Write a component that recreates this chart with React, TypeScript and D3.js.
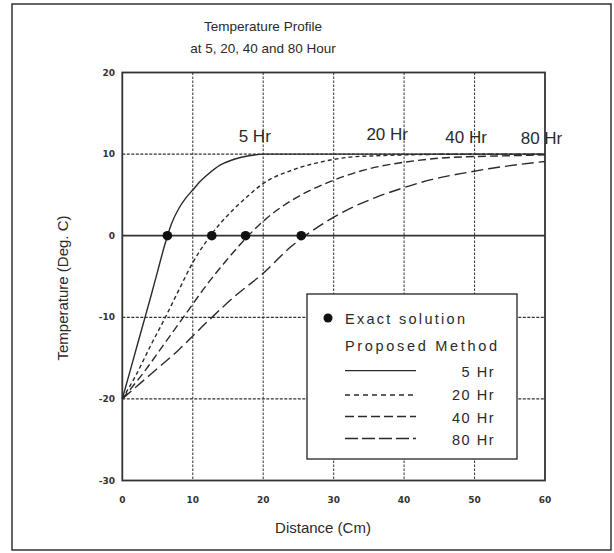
import React from "react";
import * as d3 from "d3";

const xTicks = [0, 10, 20, 30, 40, 50, 60];
const yTicks = [-30, -20, -10, 0, 10, 20];
const gridX = [10, 20, 30, 40, 50];
const gridY = [-20, -10, 0, 10];

const hr5X = [0, 1, 2, 3, 4, 5, 6, 7, 8, 9, 10, 11, 12, 14, 16, 18, 20, 25, 30, 40, 50, 60];
const hr5Y = [-20, -16.9, -13.8, -10.7, -7.6, -4.4, -1.2, 1.5, 3.3, 4.6, 5.6, 6.6, 7.4, 8.7, 9.4, 9.8, 10, 10, 10, 10, 10, 10];

const hr20X = [0, 2, 4, 6, 8, 10, 12, 14, 16, 18, 20, 24, 28, 32, 36, 40, 50, 60];
const hr20Y = [-20, -17, -13.5, -10.2, -6.7, -3.3, -0.6, 1.6, 3.4, 5.0, 6.4, 8.0, 9.0, 9.6, 9.8, 9.9, 10, 10];

const hr40X = [0, 3, 6, 9, 12, 15, 18, 21, 24, 27, 30, 35, 40, 45, 50, 55, 60];
const hr40Y = [-20, -16.8, -13.2, -9.6, -6.0, -2.8, 0.1, 2.5, 4.3, 5.7, 6.8, 8.2, 9.0, 9.5, 9.7, 9.8, 9.9];

const hr80X = [0, 4, 8, 12, 16, 20, 24, 28, 32, 36, 40, 44, 48, 52, 56, 60];
const hr80Y = [-20, -17, -14, -10.6, -7.4, -4.6, -1.3, 1.2, 3.2, 4.7, 5.9, 6.9, 7.6, 8.2, 8.7, 9.1];

const exactX = [6.4, 12.7, 17.5, 25.4];
const exactY = [0, 0, 0, 0];

const seriesNames = ["5 Hr", "20 Hr", "40 Hr", "80 Hr"];
const seriesX = [hr5X, hr20X, hr40X, hr80X];
const seriesY = [hr5Y, hr20Y, hr40Y, hr80Y];
const seriesDash = ["none", "4,3", "8,4", "12,5"];
const labelX = [18.8, 37.6, 48.8, 59.5];
const labelY = [11.5, 11.7, 11.4, 11.2];

const W = 614;
const H = 553;
const L = 122.3;
const R = 545;
const T = 72.5;
const B = 480.5;

export default function App() {
  const x = d3.scaleLinear().domain([0, 60]).range([L, R]);
  const y = d3.scaleLinear().domain([-30, 20]).range([B, T]);
  const line = d3
    .line<[number, number]>()
    .x((d) => x(d[0]))
    .y((d) => y(d[1]))
    .curve(d3.curveMonotoneX);

  const ink = "#2a2a2a";
  const sans = "'Liberation Sans', Arial, sans-serif";

  const legLines = [370.7, 395, 416.5, 438.5];
  const legText = [377.3, 400, 422.7, 445];

  return (
    <svg
      width={W}
      height={H}
      style={{ position: "absolute", left: 0, top: 0, background: "#fff" }}
      fontFamily={sans}
    >
      <rect x={0} y={0} width={W} height={H} fill="#fff" />
      <rect x={12} y={4} width={599} height={546} fill="none" stroke="#333" strokeWidth={1.5} />

      <text x={263} y={31} textAnchor="middle" fontSize={13.5} fill={ink}>
        Temperature Profile
      </text>
      <text x={263} y={53} textAnchor="middle" fontSize={13.5} fill={ink}>
        at 5, 20, 40 and 80 Hour
      </text>

      {/* grid */}
      {gridX.map((v) => (
        <line key={"gx" + v} x1={x(v)} x2={x(v)} y1={T} y2={B} stroke="#444" strokeWidth={1.1} strokeDasharray="2.5,1.5" />
      ))}
      {gridY.map((v) => (
        <line
          key={"gy" + v}
          x1={L}
          x2={R}
          y1={y(v)}
          y2={y(v)}
          stroke="#333"
          strokeWidth={v === 0 ? 1.8 : 1.2}
          strokeDasharray={v === 0 ? "none" : "3,1.5"}
        />
      ))}
      <rect x={L} y={T} width={R - L} height={B - T} fill="none" stroke="#333" strokeWidth={1.8} />

      {/* ticks */}
      {yTicks.map((v) => (
        <text key={"yt" + v} x={115} y={y(v) + 3} textAnchor="end" fontSize={9} fontWeight="bold" fill="#333" fontFamily="'DejaVu Sans', sans-serif">
          {v < 0 ? "-" + Math.abs(v) : v}
        </text>
      ))}
      {xTicks.map((v) => (
        <text key={"xt" + v} x={x(v)} y={503} textAnchor="middle" fontSize={9} fontWeight="bold" fill="#333" fontFamily="'DejaVu Sans', sans-serif">
          {v}
        </text>
      ))}

      <text x={323} y={533} textAnchor="middle" fontSize={15} fill={ink}>
        Distance (Cm)
      </text>
      <text transform="translate(68,288) rotate(-90)" textAnchor="middle" fontSize={15} fill={ink}>
        Temperature (Deg. C)
      </text>

      {/* curves */}
      {seriesX.map((xs, i) => (
        <path
          key={"s" + i}
          d={line(xs.map((xv, j) => [xv, seriesY[i][j]] as [number, number])) || ""}
          fill="none"
          stroke={ink}
          strokeWidth={1.4}
          strokeDasharray={seriesDash[i]}
        />
      ))}
      {exactX.map((xv, i) => (
        <circle key={"e" + i} cx={x(xv)} cy={y(exactY[i])} r={4.8} fill="#111" />
      ))}
      {seriesNames.map((n, i) => (
        <text key={"lb" + i} x={x(labelX[i])} y={y(labelY[i])} textAnchor="middle" fontSize={17} fill={ink}>
          {n}
        </text>
      ))}

      {/* legend */}
      <rect x={307} y={294} width={210} height={165} fill="#fff" stroke="#222" strokeWidth={1.3} />
      <circle cx={328} cy={318} r={4.5} fill="#111" />
      <text x={345} y={323.5} fontSize={14.5} fill={ink} textLength={120} lengthAdjust="spacing">
        Exact solution
      </text>
      <text x={345} y={351} fontSize={14.5} fill={ink} textLength={152} lengthAdjust="spacing">
        Proposed Method
      </text>
      {seriesNames.map((n, i) => (
        <g key={"lg" + i}>
          <line x1={345} x2={416} y1={legLines[i]} y2={legLines[i]} stroke={ink} strokeWidth={1.3} strokeDasharray={i === 0 ? "none" : i === 1 ? "5,4" : i === 2 ? "9,4" : "13,4"} />
          <text x={495} y={legText[i]} textAnchor="end" fontSize={14.5} fill={ink} letterSpacing={1.5}>
            {n}
          </text>
        </g>
      ))}
    </svg>
  );
}
